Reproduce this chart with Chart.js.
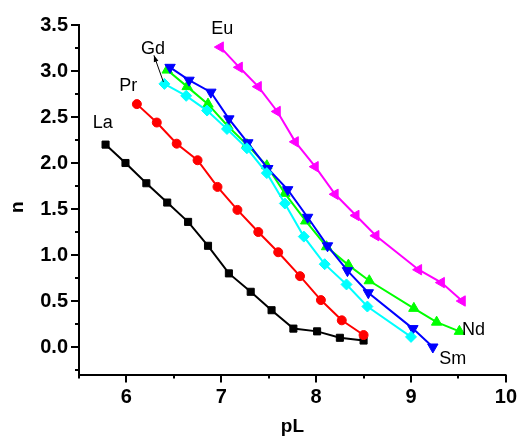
<!DOCTYPE html>
<html>
<head>
<meta charset="utf-8">
<script src="https://cdn.jsdelivr.net/npm/chart.js@4/dist/chart.umd.min.js"></script>
<style>
  html, body { margin: 0; padding: 0; background: #fff; }
  #wrap { width: 520px; height: 441px; }
</style>
</head>
<body>
<div id="wrap"><canvas id="c" width="520" height="441"></canvas></div>
<script>
// pL / n curves for each lanthanide
const laX = [5.78, 5.99, 6.21, 6.43, 6.65, 6.86, 7.08, 7.31, 7.53, 7.76, 8.01, 8.25, 8.50];
const laY = [2.20, 2.00, 1.78, 1.57, 1.36, 1.10, 0.80, 0.60, 0.40, 0.20, 0.17, 0.10, 0.07];

const prX = [6.11, 6.32, 6.53, 6.75, 6.96, 7.17, 7.39, 7.60, 7.83, 8.05, 8.27, 8.50];
const prY = [2.64, 2.44, 2.21, 2.03, 1.74, 1.49, 1.25, 1.03, 0.77, 0.51, 0.29, 0.13];

const ndX = [6.43, 6.64, 6.86, 7.07, 7.27, 7.48, 7.67, 7.89, 8.11, 8.34, 8.56, 9.03, 9.27, 9.51];
const ndY = [3.01, 2.83, 2.64, 2.40, 2.20, 1.97, 1.67, 1.37, 1.09, 0.89, 0.72, 0.42, 0.27, 0.17];

const smX = [6.46, 6.66, 6.89, 7.08, 7.28, 7.49, 7.70, 7.91, 8.12, 8.33, 8.55, 9.02, 9.23];
const smY = [3.04, 2.90, 2.77, 2.48, 2.22, 1.94, 1.71, 1.41, 1.10, 0.83, 0.59, 0.20, 0.00];

const euX = [6.99, 7.19, 7.39, 7.59, 7.78, 7.99, 8.20, 8.42, 8.63, 9.08, 9.32, 9.54];
const euY = [3.26, 3.04, 2.83, 2.56, 2.23, 1.96, 1.66, 1.43, 1.21, 0.84, 0.70, 0.50];

const gdX = [6.40, 6.63, 6.85, 7.06, 7.27, 7.48, 7.67, 7.87, 8.09, 8.32, 8.54, 9.00];
const gdY = [2.86, 2.73, 2.57, 2.37, 2.16, 1.89, 1.56, 1.20, 0.90, 0.68, 0.44, 0.11];

// axis ticks
const xMajorTicks = [6, 7, 8, 9, 10];
const xMinorTicks = [5.5, 6.5, 7.5, 8.5, 9.5];
const yMajorTicks = [0, 0.5, 1, 1.5, 2, 2.5, 3, 3.5];
const yMinorTicks = [-0.25, 0.25, 0.75, 1.25, 1.75, 2.25, 2.75, 3.25];

// curve labels (anchor in data units)
const curveNames = ['La', 'Pr', 'Gd', 'Eu', 'Nd', 'Sm'];
const curveLabelX = [5.75, 6.02, 6.28, 7.01, 9.66, 9.44];
const curveLabelY = [2.38, 2.78, 3.19, 3.40, 0.13, -0.19];

// arrow from the Gd curve to its label
const gdArrowFrom = [6.39, 2.88];
const gdArrowTo = [6.29, 3.17];

// y-axis title anchor (data units)
const yTitleAt = 1.52;

const FONT = "'Liberation Sans', Arial, sans-serif";

function pts(xs, ys) { return xs.map((x, i) => ({ x: x, y: ys[i] })); }

function series(label, xs, ys, color, style, radius, rotation, order) {
  return {
    label: label,
    data: pts(xs, ys),
    borderColor: color,
    backgroundColor: color,
    borderWidth: 2,
    pointStyle: style,
    pointRadius: radius,
    pointRotation: rotation,
    pointBorderWidth: 1,
    pointBorderColor: color,
    pointBackgroundColor: color,
    tension: 0,
    fill: false,
    order: order
  };
}

const tickMarks = {
  id: 'tickMarks',
  afterDraw(chart) {
    const ctx = chart.ctx;
    const xs = chart.scales.x, ys = chart.scales.y;
    const area = chart.chartArea;
    ctx.save();
    ctx.strokeStyle = '#000';
    ctx.lineWidth = 2;
    const drawX = (v, len) => {
      const p = Math.round(xs.getPixelForValue(v));
      ctx.beginPath(); ctx.moveTo(p, area.bottom); ctx.lineTo(p, area.bottom + len); ctx.stroke();
    };
    const drawY = (v, len) => {
      const p = Math.round(ys.getPixelForValue(v));
      ctx.beginPath(); ctx.moveTo(area.left, p); ctx.lineTo(area.left - len, p); ctx.stroke();
    };
    xMajorTicks.forEach(v => drawX(v, 8));
    xMinorTicks.forEach(v => drawX(v, 4));
    yMajorTicks.forEach(v => drawY(v, 8));
    yMinorTicks.forEach(v => drawY(v, 4));

    // y-axis title
    ctx.fillStyle = '#000';
    ctx.save();
    ctx.translate(18, ys.getPixelForValue(yTitleAt));
    ctx.rotate(-Math.PI / 2);
    ctx.font = 'bold 19px ' + FONT;
    ctx.textAlign = 'center';
    ctx.textBaseline = 'middle';
    ctx.fillText('n', 0, 0);
    ctx.restore();

    // curve names
    ctx.font = '18px ' + FONT;
    ctx.textAlign = 'center';
    ctx.textBaseline = 'alphabetic';
    curveNames.forEach((n, i) => {
      ctx.fillText(n, xs.getPixelForValue(curveLabelX[i]), ys.getPixelForValue(curveLabelY[i]));
    });

    // arrow pointing to the Gd label
    const x0 = xs.getPixelForValue(gdArrowFrom[0]), y0 = ys.getPixelForValue(gdArrowFrom[1]);
    const x1 = xs.getPixelForValue(gdArrowTo[0]), y1 = ys.getPixelForValue(gdArrowTo[1]);
    ctx.lineWidth = 1;
    ctx.beginPath(); ctx.moveTo(x0, y0); ctx.lineTo(x1, y1); ctx.stroke();
    const ang = Math.atan2(y1 - y0, x1 - x0);
    const hl = 7, hw = 0.35;
    ctx.beginPath();
    ctx.moveTo(x1, y1);
    ctx.lineTo(x1 - hl * Math.cos(ang - hw), y1 - hl * Math.sin(ang - hw));
    ctx.lineTo(x1 - hl * Math.cos(ang + hw), y1 - hl * Math.sin(ang + hw));
    ctx.closePath();
    ctx.fill();
    ctx.restore();
  }
};

new Chart(document.getElementById('c'), {
  type: 'line',
  data: {
    datasets: [
      series('La', laX, laY, '#000000', 'rect', 5, 0, 6),
      series('Pr', prX, prY, '#ff0000', 'circle', 4.5, 0, 5),
      series('Nd', ndX, ndY, '#00ff00', 'triangle', 6, 0, 4),
      series('Sm', smX, smY, '#0000ff', 'triangle', 6, 180, 3),
      series('Eu', euX, euY, '#ff00ff', 'triangle', 6, 270, 2),
      series('Gd', gdX, gdY, '#00ffff', 'rectRot', 5.5, 0, 1)
    ]
  },
  options: {
    responsive: false,
    animation: false,
    events: [],
    layout: { padding: { left: 0, right: 14, top: 25, bottom: 0 } },
    plugins: { legend: { display: false }, tooltip: { enabled: false }, title: { display: false } },
    scales: {
      x: {
        type: 'linear',
        min: 5.5,
        max: 10,
        afterBuildTicks(scale) {
          scale.ticks = xMajorTicks.concat(xMinorTicks).sort((a, b) => a - b).map(v => ({ value: v }));
        },
        afterFit(scale) { scale.height = 66.4; },
        ticks: {
          autoSkip: false,
          maxRotation: 0,
          padding: 3,
          color: '#000',
          font: { family: FONT, size: 20, weight: 'bold' },
          callback: v => (xMajorTicks.includes(v) ? String(v) : '')
        },
        grid: { display: true, drawOnChartArea: false, drawTicks: true, tickLength: 8, tickColor: 'rgba(0,0,0,0)' },
        border: { display: true, color: '#000', width: 2 },
        title: {
          display: true,
          text: 'pL',
          color: '#000',
          font: { family: FONT, size: 19, weight: 'bold' },
          padding: { top: 0, bottom: 3 }
        }
      },
      y: {
        type: 'linear',
        min: -0.3,
        max: 3.5,
        afterBuildTicks(scale) {
          scale.ticks = yMajorTicks.concat(yMinorTicks).sort((a, b) => a - b).map(v => ({ value: v }));
        },
        afterFit(scale) { scale.width = 79; },
        ticks: {
          autoSkip: false,
          padding: 3,
          color: '#000',
          font: { family: FONT, size: 20, weight: 'bold' },
          callback: v => (yMajorTicks.includes(v) ? v.toFixed(1) : '')
        },
        grid: { display: true, drawOnChartArea: false, drawTicks: true, tickLength: 8, tickColor: 'rgba(0,0,0,0)' },
        border: { display: true, color: '#000', width: 2 },
        title: { display: false }
      }
    }
  },
  plugins: [tickMarks]
});
</script>
</body>
</html>
